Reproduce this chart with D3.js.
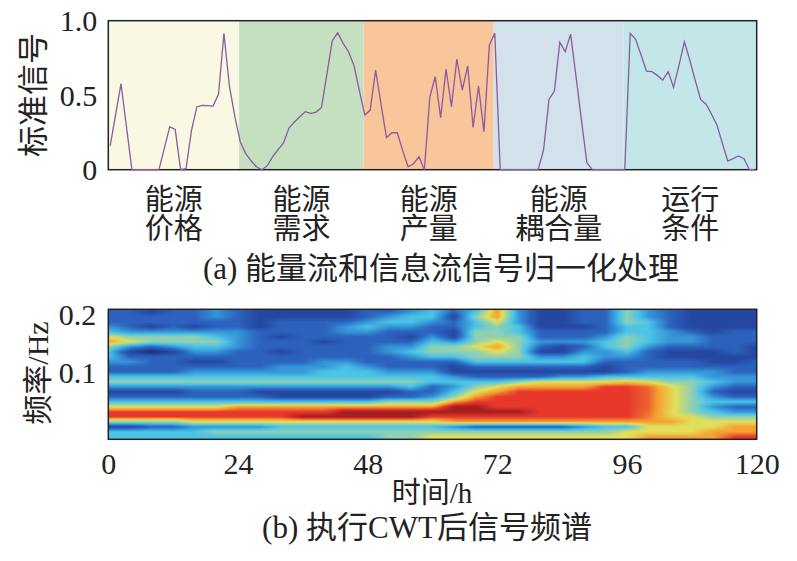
<!DOCTYPE html>
<html>
<head>
<meta charset="utf-8">
<script src="https://cdn.jsdelivr.net/npm/d3@7"></script>
<style>
  body { margin: 0; background: #fff; }
  svg text { font-family: "Liberation Serif", "Noto Sans CJK SC", serif; fill: #222; }
</style>
</head>
<body>
<svg id="chart" width="797" height="561"></svg>
<script>
// ---- panel (a): normalised signal, one sample per hour ----
const signal = [
  0.16, 0.37, 0.577, 0.29, 0, 0, 0, 0, 0, 0,
  0.145, 0.289, 0.271, 0, 0.007, 0.262, 0.423, 0.432, 0.43, 0.427,
  0.508, 0.915, 0.562, 0.36, 0.188, 0.11, 0.06, 0.02, 0, 0.027,
  0.087, 0.135, 0.18, 0.28, 0.32, 0.355, 0.389, 0.378, 0.387, 0.416,
  0.64, 0.866, 0.919, 0.848, 0.792, 0.70, 0.53, 0.367, 0.40, 0.669,
  0.44, 0.215, 0.248, 0.248, 0.128, 0.02, 0.04, 0.087, 0, 0.485,
  0.624, 0.349, 0.676, 0.423, 0.743, 0.535, 0.696, 0.284, 0.561, 0.255,
  0.837, 0.915, 0, 0, 0, 0, 0, 0, 0, 0,
  0.132, 0.472, 0.528, 0.855, 0.792, 0.91, 0.624, 0.333, 0.047, 0,
  0, 0, 0, 0, 0, 0, 0.915, 0.875, 0.77, 0.662,
  0.658, 0.633, 0.602, 0.658, 0.553, 0.70, 0.859, 0.736, 0.60, 0.472,
  0.44, 0.374, 0.30, 0.18, 0.058, 0.074, 0.092, 0.074, 0, 0
];
const bandNames = [["能源", "价格"], ["能源", "需求"], ["能源", "产量"], ["能源", "耦合量"], ["运行", "条件"]];
const bandEdges = [-0.35, 23.8, 46.8, 70.8, 94.8, 119.35];
const bandColors = ["#f8f8e3", "#c5e0c1", "#f9c59b", "#d3e1ed", "#c3e6e8"];
const signalTicks = [0, 0.5, 1.0];

// ---- panel (b): CWT magnitude levels (0-9), one column every 4 h, rows from high to low frequency ----
const cwtTimes = [0, 4, 8, 12, 16, 20, 24, 28, 32, 36, 40, 44, 48, 52, 56, 60,
                  64, 68, 72, 76, 80, 84, 88, 92, 96, 100, 104, 108, 112, 116, 120];
const cwtLevels = [
  [2,2,2,3,4,6,7,5,4,4,3,2,2,4,5,3,1,2,4,6,8,8,5,1,4,4],
  [2,2,2,2,3,5,6,3,1,2,3,2,2,4,5,3,1,2,4,6,8,8,5,1,4,4],
  [1,2,2,1,3,5,5,2,0,2,2,2,2,4,5,3,1,2,4,6,8,8,5,2,4,4],
  [2,2,2,2,3,5,5,3,1,2,2,2,2,4,5,3,1,2,4,6,8,8,5,2,4,4],
  [2,2,2,1,3,5,5,4,3,2,1,2,3,4,5,3,2,2,4,6,8,8,6,3,4,4],
  [3,3,2,2,3,4,5,4,3,2,1,2,3,4,5,3,2,2,4,6,8,8,6,3,5,4],
  [2,2,2,2,3,3,3,3,2,2,2,2,3,4,5,3,2,2,4,7,8,8,6,3,5,4],
  [1,1,1,1,2,2,2,2,2,2,2,2,3,4,5,3,1,2,4,7,8,8,6,3,5,4],
  [1,1,2,2,2,1,2,2,1,2,2,3,3,4,5,3,1,1,4,7,8,8,6,4,5,4],
  [1,1,2,2,2,2,2,2,2,2,2,3,3,4,5,3,1,1,4,7,8,9,6,4,5,4],
  [1,1,2,2,2,2,1,2,2,2,3,3,4,4,5,3,1,1,4,7,8,9,6,4,5,4],
  [1,1,2,3,3,2,2,2,2,2,3,4,4,4,5,3,1,1,4,7,9,9,6,4,5,4],
  [2,2,3,4,3,2,2,2,2,2,2,3,4,4,5,3,1,1,4,7,9,9,6,4,5,4],
  [2,3,4,3,2,2,2,3,3,2,2,2,3,4,5,3,1,2,5,7,9,9,6,4,5,5],
  [3,4,4,3,2,1,2,3,4,3,2,2,3,4,5,4,2,2,5,7,9,9,6,4,5,5],
  [4,4,3,2,2,3,4,5,5,4,2,2,3,4,4,2,2,3,5,7,9,8,6,4,5,6],
  [2,1,2,2,1,1,3,5,5,4,2,1,1,3,4,3,4,5,7,9,9,8,7,3,5,6],
  [4,5,4,4,5,5,5,6,5,5,4,2,1,2,4,5,6,7,8,9,9,8,7,2,5,6],
  [7,7,6,5,5,5,6,7,6,5,4,2,1,2,4,6,7,8,8,8,9,8,7,2,5,6],
  [3,3,3,4,4,5,5,5,5,5,4,2,1,2,5,7,8,8,8,8,9,8,7,2,5,6],
  [1,1,1,1,2,2,3,2,1,3,4,2,1,2,6,7,8,8,8,8,8,8,7,2,5,6],
  [1,1,1,1,2,2,3,1,1,3,4,2,1,3,6,7,8,8,8,8,8,8,7,2,5,6],
  [2,2,2,1,2,2,3,2,3,4,4,2,1,3,6,7,8,8,8,8,8,8,7,3,5,6],
  [2,2,2,2,2,3,4,4,3,3,2,1,1,4,6,8,8,8,8,8,8,8,7,4,5,6],
  [5,5,5,4,4,5,5,5,4,3,2,2,2,4,6.5,8,8,8,8,8,8,8,7,4,6,6],
  [3,3,4,4,4,4,4,3,2,2,2,2,3,4,6,7.5,7.6,7.6,7.6,7.6,7.5,7.4,7,6,6,7],
  [2,2,2,2,3,3,3,2,1,1,2,2,3,4,5,6.2,6.3,6.3,6.3,6.3,6.2,6.3,7,6,6,7],
  [1,1,1,1,2,3,3,2,1,1,2,2,3,4,5,5,5,5,5,5,5,6,6,6,6,7],
  [1,1,1,1,1,2,2,2,1,1,1,2,3,3,4,3,2,3,4,3,4,5,6,6,7,7],
  [1,1,1,1,2,2,2,2,2,1,1,2,2,3,3,2,1,2,4,2,3,5,6,7,7,8],
  [1,1,1,1,2,2,2,1,1,1,2,2,2,3,3,2,1,2,4,2,3,5,6,7,7,8]
];
const levelColors = ["#1c2c78", "#2448a2", "#2c62be", "#3596d8", "#4cc4e6",
                     "#8fd0b4", "#e2e058", "#f5a232", "#e8382c", "#a41e1e"];
const freqTicks = [0.1, 0.2];
const timeTicks = [0, 24, 48, 72, 96, 120];

const svg = d3.select("#chart");

// ================= panel (a) =================
const pa = { left: 108.3, right: 756.7, top: 20.7, bottom: 169.7 };
const xa = d3.scaleLinear().domain([bandEdges[0], bandEdges[bandEdges.length - 1]]).range([pa.left, pa.right]);
const ya = d3.scaleLinear().domain([0, 1]).range([pa.bottom, pa.top]);

svg.append("g")
  .selectAll("rect")
  .data(bandNames)
  .join("rect")
  .attr("x", (d, i) => xa(bandEdges[i]))
  .attr("width", (d, i) => xa(bandEdges[i + 1]) - xa(bandEdges[i]))
  .attr("y", ya(1))
  .attr("height", ya(0) - ya(1))
  .attr("fill", (d, i) => bandColors[i]);

svg.append("rect")
  .attr("x", pa.left).attr("y", pa.top)
  .attr("width", pa.right - pa.left).attr("height", pa.bottom - pa.top)
  .attr("fill", "none").attr("stroke", "#222").attr("stroke-width", 1.5);

svg.append("path")
  .datum(signal)
  .attr("fill", "none")
  .attr("stroke", "#8d5a9f")
  .attr("stroke-width", 1.3)
  .attr("d", d3.line().x((d, i) => xa(i)).y(d => ya(d)));

const yAxisA = svg.append("g")
  .attr("transform", `translate(${pa.left},0)`)
  .call(d3.axisLeft(ya).tickValues(signalTicks).tickSize(0).tickPadding(11)
    .tickFormat(d => d === 0 ? "0" : d3.format(".1f")(d)));
yAxisA.select(".domain").remove();
yAxisA.selectAll("text").attr("font-size", 30).attr("dy", "0.34em").style("font-family", null);

svg.append("text")
  .attr("transform", "translate(44,95) rotate(-90)")
  .attr("text-anchor", "middle")
  .attr("font-size", 31)
  .text("标准信号");

const bandLabel = svg.append("g")
  .selectAll("text")
  .data(bandNames)
  .join("text")
  .attr("text-anchor", "middle")
  .attr("font-size", 29)
  .attr("x", (d, i) => xa((bandEdges[i] + bandEdges[i + 1]) / 2));
bandLabel.append("tspan").attr("y", 210).text(d => d[0]);
bandLabel.append("tspan").attr("x", (d, i) => xa((bandEdges[i] + bandEdges[i + 1]) / 2)).attr("y", 239).text(d => d[1]);

svg.append("text")
  .attr("x", 441).attr("y", 279)
  .attr("text-anchor", "middle")
  .attr("font-size", 31)
  .text("(a) 能量流和信息流信号归一化处理");

// ================= panel (b) =================
const pb = { left: 108.3, right: 756.7, top: 309.3, bottom: 439.3 };
const xb = d3.scaleLinear().domain([0, 120]).range([pb.left, pb.right]);
const yb = d3.scaleLog().domain([0.045, 0.212]).range([pb.bottom, pb.top]);
const levelColor = d3.scaleLinear().domain(d3.range(levelColors.length)).range(levelColors).clamp(true);

// render the level grid into a canvas, interpolating between grid nodes
const cw = Math.round(pb.right - pb.left), ch = Math.round(pb.bottom - pb.top);
const canvas = document.createElement("canvas");
canvas.width = cw; canvas.height = ch;
const ctx = canvas.getContext("2d");
const img = ctx.createImageData(cw, ch);
const nRows = cwtLevels[0].length, nCols = cwtTimes.length;
const lTop = Math.log(yb.domain()[1]), lBot = Math.log(yb.domain()[0]);
const colPos = d3.scaleLinear().domain(cwtTimes).range(d3.range(nCols)).clamp(true);

for (let py = 0; py < ch; py++) {
  const f = yb.invert(pb.top + py + 0.5);
  let r = (lTop - Math.log(f)) / (lTop - lBot) * nRows - 0.5;
  r = Math.max(0, Math.min(nRows - 1, r));
  const r0 = Math.floor(r), r1 = Math.min(nRows - 1, r0 + 1), fr = r - r0;
  for (let px = 0; px < cw; px++) {
    const c = colPos(xb.invert(pb.left + px + 0.5));
    const c0 = Math.floor(c), c1 = Math.min(nCols - 1, c0 + 1), fc = c - c0;
    const v = (cwtLevels[c0][r0] * (1 - fc) + cwtLevels[c1][r0] * fc) * (1 - fr)
            + (cwtLevels[c0][r1] * (1 - fc) + cwtLevels[c1][r1] * fc) * fr;
    const col = d3.rgb(levelColor(v));
    const k = (py * cw + px) * 4;
    img.data[k] = col.r; img.data[k + 1] = col.g; img.data[k + 2] = col.b; img.data[k + 3] = 255;
  }
}
ctx.putImageData(img, 0, 0);

svg.append("image")
  .attr("x", pb.left).attr("y", pb.top)
  .attr("width", cw).attr("height", ch)
  .attr("preserveAspectRatio", "none")
  .attr("href", canvas.toDataURL());

svg.append("rect")
  .attr("x", pb.left).attr("y", pb.top)
  .attr("width", pb.right - pb.left).attr("height", pb.bottom - pb.top)
  .attr("fill", "none").attr("stroke", "#222").attr("stroke-width", 1.5);

const xAxisB = svg.append("g")
  .attr("transform", `translate(0,${pb.bottom})`)
  .call(d3.axisBottom(xb).tickValues(timeTicks).tickSize(0).tickPadding(13));
xAxisB.select(".domain").remove();
xAxisB.selectAll("text").attr("font-size", 30).style("font-family", null);

const yAxisB = svg.append("g")
  .attr("transform", `translate(${pb.left},0)`)
  .call(d3.axisLeft(yb).tickValues(freqTicks).tickSize(0).tickPadding(12).tickFormat(d3.format(".1f")));
yAxisB.select(".domain").remove();
yAxisB.selectAll("text").attr("font-size", 30).attr("dy", "0.34em").style("font-family", null);

svg.append("text")
  .attr("transform", "translate(48,373) rotate(-90)")
  .attr("text-anchor", "middle")
  .attr("font-size", 30)
  .text("频率/Hz");

svg.append("text")
  .attr("x", 432).attr("y", 503)
  .attr("text-anchor", "middle")
  .attr("font-size", 29)
  .text("时间/h");

svg.append("text")
  .attr("x", 427).attr("y", 538)
  .attr("text-anchor", "middle")
  .attr("font-size", 31)
  .text("(b) 执行CWT后信号频谱");
</script>
</body>
</html>
